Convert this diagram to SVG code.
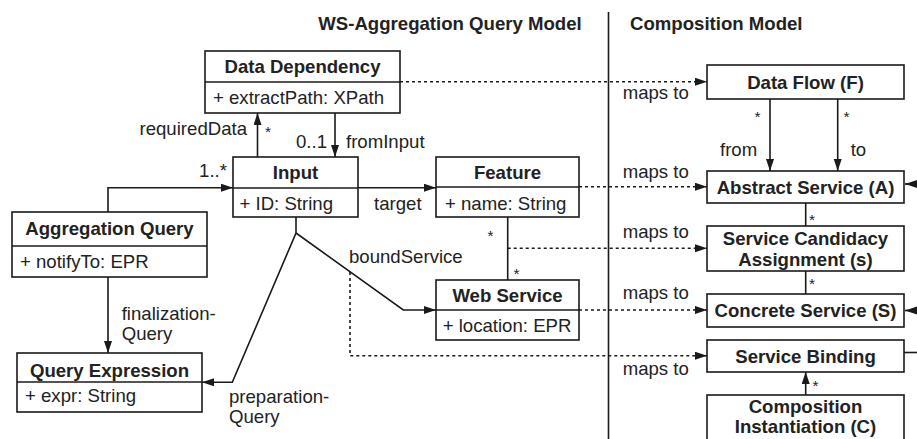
<svg xmlns="http://www.w3.org/2000/svg" width="917" height="439" viewBox="0 0 917 439">
<style>
text{font-family:"Liberation Sans",Arial,sans-serif;font-size:18.6px;fill:#222}
.b{font-weight:bold}
.m{text-anchor:middle}
.s{font-size:15.5px}
.box{fill:#fff;stroke:#1a1a1a;stroke-width:1.6}
.ln{fill:none;stroke:#1a1a1a;stroke-width:1.6}
.dot{fill:none;stroke:#1a1a1a;stroke-width:1.6;stroke-dasharray:3,3}
</style>
<defs>
<marker id="ah" markerUnits="userSpaceOnUse" markerWidth="13" markerHeight="9" refX="12" refY="4" orient="auto">
<path d="M0,0 L12,4 L0,8 z" fill="#1a1a1a"/>
</marker>
</defs>
<rect width="917" height="439" fill="#fff"/>
<g id="titles">
<text class="b m" x="450" y="30">WS-Aggregation Query Model</text>
<text class="b" x="630" y="30">Composition Model</text>
<line class="ln" x1="608.5" y1="12" x2="608.5" y2="439"/>
</g>
<g id="connectors">
<path class="ln" d="M257.5,157 V113" marker-end="url(#ah)"/>
<path class="ln" d="M335,113 V157" marker-end="url(#ah)"/>
<path class="ln" d="M108,212 V187.7 H233" marker-end="url(#ah)"/>
<path class="ln" d="M358,187.7 H436" marker-end="url(#ah)"/>
<path class="ln" d="M108,277 V353" marker-end="url(#ah)"/>
<path class="ln" d="M296,217 V233 L232.3,382.3 H202" marker-end="url(#ah)"/>
<path class="ln" d="M296,233 L403.3,310 H436" marker-end="url(#ah)"/>
<path class="ln" d="M507.7,217 V280"/>
<path class="ln" d="M770,99 V171" marker-end="url(#ah)"/>
<path class="ln" d="M837.7,99 V171" marker-end="url(#ah)"/>
<path class="ln" d="M805.7,203 V226"/>
<path class="ln" d="M805.7,271 V294"/>
<path class="ln" d="M805.7,395 V372" marker-end="url(#ah)"/>
<path class="ln" d="M917,184 H905" marker-end="url(#ah)"/>
<path class="ln" d="M917,310.5 H905" marker-end="url(#ah)"/>
<path class="ln" d="M904,352.5 H917"/>
<path class="dot" d="M400,81.7 H707" marker-end="url(#ah)"/>
<path class="dot" d="M579,186.7 H707" marker-end="url(#ah)"/>
<path class="dot" d="M507.7,248.3 H707" marker-end="url(#ah)"/>
<path class="dot" d="M579,310 H707" marker-end="url(#ah)"/>
<path class="dot" d="M350,272 V355.7 H707" marker-end="url(#ah)"/>
<text x="247" y="135" text-anchor="end">requiredData</text>
<text class="s" x="265" y="137">*</text>
<text x="327" y="148" text-anchor="end">0..1</text>
<text x="346" y="148">fromInput</text>
<text x="227" y="177" text-anchor="end">1..*</text>
<text x="374" y="210">target</text>
<text x="349" y="263">boundService</text>
<text class="s" x="487.5" y="241">*</text>
<text class="s" x="513.5" y="279">*</text>
<text x="121.7" y="320">finalization-</text>
<text x="121.7" y="340">Query</text>
<text x="229" y="403">preparation-</text>
<text x="229" y="423">Query</text>
<text x="622.7" y="99">maps to</text>
<text x="622.7" y="178">maps to</text>
<text x="622.7" y="238">maps to</text>
<text x="622.7" y="299">maps to</text>
<text x="622.7" y="375">maps to</text>
<text class="s" x="754.5" y="122">*</text>
<text class="s" x="843.5" y="122">*</text>
<text x="720" y="156">from</text>
<text x="850.7" y="156">to</text>
<text class="s" x="809" y="224.5">*</text>
<text class="s" x="809" y="289">*</text>
<text class="s" x="812.5" y="391">*</text>
</g>
<g id="data-dependency">
<rect class="box" x="205" y="51" width="195" height="62"/>
<line class="ln" x1="205" y1="82" x2="400" y2="82"/>
<text class="b m" x="302.5" y="72.5">Data Dependency</text>
<text x="213" y="103.5">+ extractPath: XPath</text>
</g>
<g id="input">
<rect class="box" x="233" y="157" width="125" height="60"/>
<line class="ln" x1="233" y1="188" x2="358" y2="188"/>
<text class="b m" x="295.5" y="179">Input</text>
<text x="239.5" y="210">+ ID: String</text>
</g>
<g id="feature">
<rect class="box" x="436" y="157" width="143" height="60"/>
<line class="ln" x1="436" y1="187" x2="579" y2="187"/>
<text class="b m" x="507.5" y="179">Feature</text>
<text x="445" y="210">+ name: String</text>
</g>
<g id="web-service">
<rect class="box" x="436" y="280" width="143" height="60"/>
<line class="ln" x1="436" y1="310" x2="579" y2="310"/>
<text class="b m" x="507.5" y="301.5">Web Service</text>
<text x="442.7" y="332">+ location: EPR</text>
</g>
<g id="aggregation-query">
<rect class="box" x="12" y="212" width="195" height="65"/>
<line class="ln" x1="12" y1="246" x2="207" y2="246"/>
<text class="b m" x="109.5" y="235">Aggregation Query</text>
<text x="20" y="268">+ notifyTo: EPR</text>
</g>
<g id="query-expression">
<rect class="box" x="17" y="353" width="185" height="59"/>
<line class="ln" x1="17" y1="382" x2="202" y2="382"/>
<text class="b m" x="109.5" y="376.5">Query Expression</text>
<text x="25" y="401.5">+ expr: String</text>
</g>
<g id="data-flow">
<rect class="box" x="707" y="65" width="197" height="34"/>
<text class="b m" x="805.5" y="89">Data Flow (F)</text>
</g>
<g id="abstract-service">
<rect class="box" x="707" y="171" width="197" height="32"/>
<text class="b m" x="805.5" y="194">Abstract Service (A)</text>
</g>
<g id="service-candidacy">
<rect class="box" x="707" y="226" width="197" height="45"/>
<text class="b m" x="805.5" y="245">Service Candidacy</text>
<text class="b m" x="805.5" y="266">Assignment (s)</text>
</g>
<g id="concrete-service">
<rect class="box" x="707" y="294" width="197" height="33"/>
<text class="b m" x="805.5" y="317">Concrete Service (S)</text>
</g>
<g id="service-binding">
<rect class="box" x="707" y="340" width="197" height="32"/>
<text class="b m" x="805.5" y="363">Service Binding</text>
</g>
<g id="composition-instantiation">
<rect class="box" x="707" y="395" width="197" height="50"/>
<text class="b m" x="805.5" y="413">Composition</text>
<text class="b m" x="805.5" y="433">Instantiation (C)</text>
</g>
</svg>
